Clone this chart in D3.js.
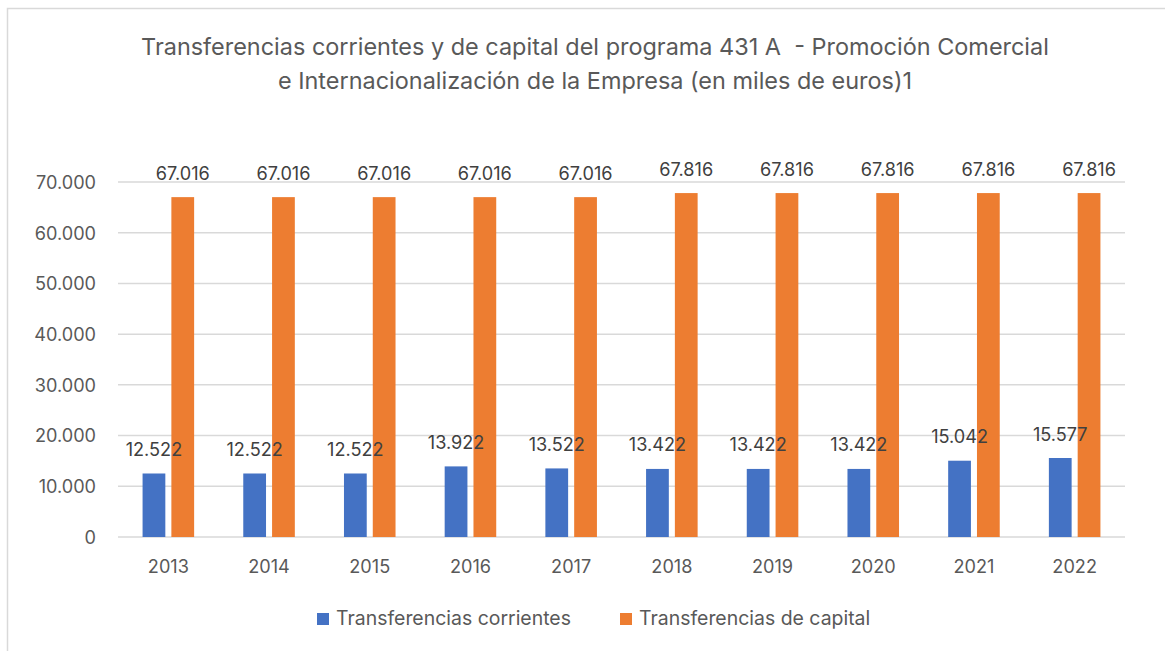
<!DOCTYPE html>
<html>
<head>
<meta charset="utf-8">
<script src="https://cdn.jsdelivr.net/npm/d3@7"></script>
<style>
  html, body { margin: 0; padding: 0; background: #fff; }
  svg { display: block; }
</style>
</head>
<body>
<svg id="chart" width="1165" height="651"></svg>
<script>
const years = ["2013","2014","2015","2016","2017","2018","2019","2020","2021","2022"];
const corrientes = [12522,12522,12522,13922,13522,13422,13422,13422,15042,15577];
const capital = [67016,67016,67016,67016,67016,67816,67816,67816,67816,67816];
const seriesNames = ["Transferencias corrientes","Transferencias de capital"];
const seriesColors = ["#4472C4","#ED7D31"];
const yTicks = [0,10000,20000,30000,40000,50000,60000,70000];
const titleLines = [
  "Transferencias corrientes y de capital del programa 431 A  - Promoción Comercial",
  "e Internacionalización de la Empresa (en miles de euros)1"
];

const FONT = "Inter, 'Open Sans', 'DejaVu Sans', sans-serif";
const TEXT = "#595959";
const GRID = "#d9d9d9";

const svg = d3.select("#chart");
const W = 1165, H = 651;

function fitSize(str, target, base) {
  const t = svg.append("text").attr("font-family", FONT).attr("font-size", base).style("white-space","pre").text(str);
  const w = t.node().getComputedTextLength();
  t.remove();
  return base * target / w;
}
const fmt = v => v === 0 ? "0" : d3.format(",")(v).replace(/,/g, ".");

svg.append("path")
  .attr("d", `M7.5,${H} L7.5,8.5 L${W},8.5`)
  .attr("fill", "none").attr("stroke", GRID).attr("stroke-width", 1.5);

const plot = { left: 118, right: 1125, top: 182, bottom: 537 };

const x = d3.scaleBand().domain(years).range([plot.left, plot.right]).paddingInner(0).paddingOuter(0);
const y = d3.scaleLinear().domain([0, 70000]).range([plot.bottom, plot.top]);

const titleSize = fitSize(titleLines[0], 908, 20);
svg.append("g").selectAll("text").data(titleLines).join("text")
  .attr("x", 595).attr("y", (d, i) => 55 + i * 34)
  .attr("text-anchor", "middle")
  .attr("font-family", FONT).attr("font-size", titleSize)
  .attr("fill", TEXT).style("white-space", "pre")
  .text(d => d);

svg.append("g").selectAll("line").data(yTicks).join("line")
  .attr("x1", plot.left).attr("x2", plot.right)
  .attr("y1", d => y(d)).attr("y2", d => y(d))
  .attr("stroke", GRID).attr("stroke-width", 1.5);

const numSize = fitSize("70.000", 60, 17);

const yAxis = d3.axisLeft(y).tickValues(yTicks).tickFormat(fmt).tickSize(0).tickPadding(0);
const gy = svg.append("g").attr("transform", `translate(96,0)`).call(yAxis);
gy.select(".domain").remove();
gy.selectAll("text").attr("font-family", FONT).attr("font-size", numSize).attr("fill", TEXT).attr("dy", "0.35em");

const xAxis = d3.axisBottom(x).tickSize(0).tickPadding(0);
const gx = svg.append("g").attr("transform", `translate(0,573)`).call(xAxis);
gx.select(".domain").remove();
gx.selectAll("text").attr("font-family", FONT).attr("font-size", numSize).attr("fill", TEXT).attr("dy", 0);

const bw = x.bandwidth();
const barW = bw * 0.226;
const gap = bw * 0.06;
const sub = d3.scaleOrdinal().domain([0, 1]).range([-gap / 2 - barW, gap / 2]);
const data = [corrientes, capital];

const barsLayer = svg.append("g");
const labelsLayer = svg.append("g");
data.forEach((vals, si) => {
  barsLayer.append("g").selectAll("rect").data(vals).join("rect")
    .attr("x", (d, i) => x(years[i]) + bw / 2 + sub(si))
    .attr("y", d => y(d))
    .attr("width", barW)
    .attr("height", d => y(0) - y(d))
    .attr("fill", seriesColors[si]);
  labelsLayer.append("g").selectAll("text").data(vals).join("text")
    .attr("x", (d, i) => x(years[i]) + bw / 2 + sub(si) + barW / 2)
    .attr("y", d => y(d) - 17.5)
    .attr("text-anchor", "middle")
    .attr("font-family", FONT).attr("font-size", numSize).attr("fill", "#404040")
    .text(d => fmt(d));
});

const legSize = fitSize(seriesNames[0], 235, 17);
const legX = [317, 620];
const lg = svg.append("g").selectAll("g").data(seriesNames).join("g")
  .attr("transform", (d, i) => `translate(${legX[i]},0)`);
lg.append("rect").attr("x", 0).attr("y", 613).attr("width", 12).attr("height", 12)
  .attr("fill", (d, i) => seriesColors[i]);
lg.append("text").attr("x", 19).attr("y", 625)
  .attr("font-family", FONT).attr("font-size", legSize).attr("fill", TEXT)
  .text(d => d);
</script>
</body>
</html>
